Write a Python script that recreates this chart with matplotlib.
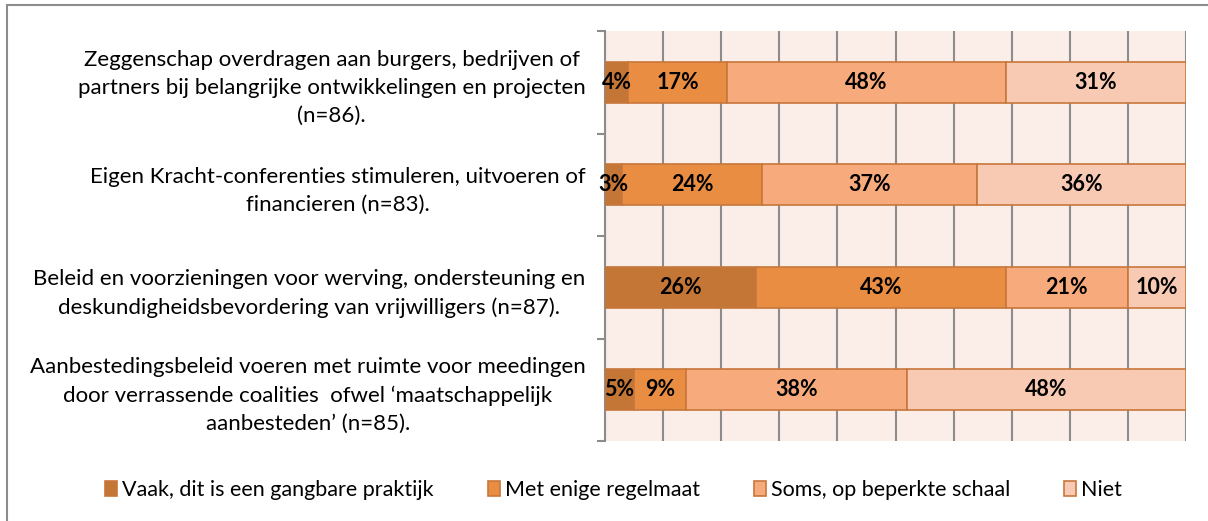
import matplotlib
matplotlib.use("Agg")
import matplotlib.pyplot as plt
from matplotlib.patches import Rectangle, Patch
import numpy as np

categories = [
    "Zeggenschap overdragen aan burgers, bedrijven of\npartners bij belangrijke ontwikkelingen en projecten\n(n=86).",
    "Eigen Kracht-conferenties stimuleren, uitvoeren of\nfinancieren (n=83).",
    "Beleid en voorzieningen voor werving, ondersteuning en\ndeskundigheidsbevordering van vrijwilligers (n=87).",
    "Aanbestedingsbeleid voeren met ruimte voor meedingen\ndoor verrassende coalities  ofwel \u2018maatschappelijk\naanbesteden\u2019 (n=85).",
]
series_names = ["Vaak, dit is een gangbare praktijk", "Met enige regelmaat",
                "Soms, op beperkte schaal", "Niet"]
vaak = [4, 3, 26, 5]
regelmaat = [17, 24, 43, 9]
soms = [48, 37, 21, 38]
niet = [31, 36, 10, 48]
series = [vaak, regelmaat, soms, niet]
colors = ["#C47636", "#E88D42", "#F7AB7C", "#F9CAB3"]
edge = "#C8773C"

plt.rcParams['font.family'] = ['Lato', 'DejaVu Sans']

fig = plt.figure(figsize=(12.08, 5.21), dpi=100)
W, H = 1208, 521
# outer border
fig.patches.append(Rectangle((7 / W, -0.1), 1.2, 1 - 5 / H + 0.1, transform=fig.transFigure,
                             fill=False, edgecolor="#8C8C8C", linewidth=1.5))

left, right, top, bottom = 605, 1186, 31, 441
ax = fig.add_axes([left / W, 1 - bottom / H, (right - left) / W, (bottom - top) / H])
ax.set_facecolor("#FBEEE9")

y = np.arange(len(categories))
cum = np.zeros(len(categories))
for vals, col, name in zip(series, colors, series_names):
    vals = np.array(vals, dtype=float)
    ax.barh(y, vals, left=cum, height=0.4, color=col, edgecolor=edge, linewidth=1.2,
            label=name, zorder=3)
    for yi, (c, v) in enumerate(zip(cum, vals)):
        ax.text(c + v / 2, yi, f"{int(v)}%", ha="center", va="center",
                fontsize=15.5, fontweight="bold", color="black", zorder=4)
    cum += vals

ax.set_xlim(0, 100)
ax.set_ylim(len(categories) - 0.5, -0.5)
ax.set_xticks(np.arange(0, 101, 10))
ax.xaxis.grid(True, color="#8C8C8C", linewidth=1.5, zorder=0)
ax.set_axisbelow(True)
ax.tick_params(axis="x", length=0, labelbottom=False)
ax.set_yticks(np.arange(-0.5, len(categories), 1.0))
ax.set_yticklabels([])
ax.set_yticks(y, minor=True)
ax.set_yticklabels(categories, minor=True, fontsize=16, multialignment="center",
                   linespacing=1.5)
ax.tick_params(axis="y", which="minor", length=0, pad=14)
ax.tick_params(axis="y", which="major", length=6, width=1.5, color="#8C8C8C", direction="out")
for s in ["top", "right", "bottom"]:
    ax.spines[s].set_visible(False)
ax.spines["left"].set_color("#8C8C8C")
ax.spines["left"].set_linewidth(1.5)

handles = [Patch(facecolor=c, edgecolor=edge, linewidth=1.2) for c in colors]
fig.legend(handles, series_names, loc="center", bbox_to_anchor=(0.508, 1 - 490 / H),
           ncol=4, frameon=False, fontsize=15.5, handlelength=0.55, handleheight=0.75,
           handletextpad=0.25, columnspacing=2.5)

fig.savefig("out.png", dpi=100)
